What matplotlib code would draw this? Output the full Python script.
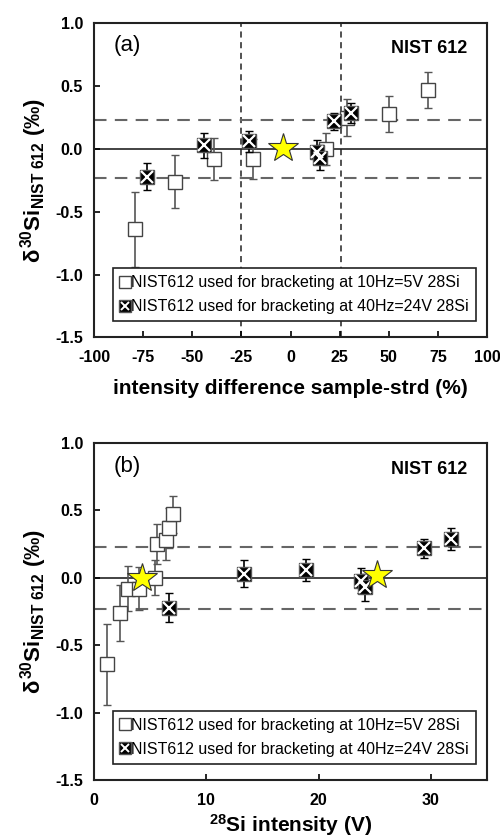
#!/usr/bin/env python3
import matplotlib
matplotlib.use('Agg')
import matplotlib.pyplot as plt
import numpy as np

plt.rcParams['font.family'] = ['Liberation Sans', 'DejaVu Sans']
plt.rcParams['mathtext.fontset'] = 'custom'
plt.rcParams['mathtext.rm'] = 'Liberation Sans:bold'
plt.rcParams['mathtext.bf'] = 'Liberation Sans:bold'
plt.rcParams['mathtext.it'] = 'Liberation Sans:bold'
plt.rcParams['axes.unicode_minus'] = False

# panel (a): intensity difference sample-strd (%)
a_sq_x = [-79, -59, -39, -19, 18, 29, 50, 70]
a_sq_y = [-0.64, -0.26, -0.08, -0.08, 0.00, 0.25, 0.28, 0.47]
a_sq_err = [0.30, 0.21, 0.165, 0.16, 0.13, 0.15, 0.145, 0.14]

a_cx_x = [-73, -44, -21, 13.5, 14.8, 22, 31]
a_cx_y = [-0.22, 0.03, 0.06, -0.02, -0.07, 0.22, 0.29]
a_cx_err = [0.11, 0.10, 0.08, 0.09, 0.10, 0.07, 0.08]

a_star_x = [-4]
a_star_y = [0.01]

# panel (b): 28Si intensity (V)
b_sq_x = [1.2, 2.3, 3.0, 4.0, 5.4, 5.6, 6.4, 6.7, 7.0]
b_sq_y = [-0.64, -0.26, -0.08, -0.08, 0.00, 0.25, 0.28, 0.37, 0.47]
b_sq_err = [0.30, 0.21, 0.165, 0.16, 0.13, 0.15, 0.145, 0.15, 0.14]

b_cx_x = [6.7, 13.4, 18.9, 23.8, 24.1, 29.4, 31.8]
b_cx_y = [-0.22, 0.03, 0.06, -0.02, -0.07, 0.22, 0.29]
b_cx_err = [0.11, 0.10, 0.08, 0.09, 0.10, 0.07, 0.08]

b_star_x = [4.3, 25.2]
b_star_y = [0.0, 0.02]

repro = 0.23
leg_sq = 'NIST612 used for bracketing at 10Hz=5V 28Si'
leg_cx = 'NIST612 used for bracketing at 40Hz=24V 28Si'

fig = plt.figure(figsize=(5, 8.39), dpi=100)
ax_a = fig.add_axes([0.188, 0.598, 0.786, 0.374])
ax_b = fig.add_axes([0.188, 0.070, 0.786, 0.402])

ylab = r'$\delta^{30}$Si$_{\mathrm{NIST\ 612}}$ (‰)'


def draw_panel(ax, sq_x, sq_y, sq_err, cx_x, cx_y, cx_err, st_x, st_y, tag):
    ax.axhline(0, color='#222222', lw=1.2, zorder=1)
    ax.axhline(repro, color='#666666', lw=1.5, ls=(0, (6, 4)), zorder=1)
    ax.axhline(-repro, color='#666666', lw=1.5, ls=(0, (6, 4)), zorder=1)
    ax.errorbar(sq_x, sq_y, yerr=sq_err, fmt='s', ms=10, mfc='white',
                mec='#444444', mew=1.0, ecolor='#555555', elinewidth=1.2,
                capsize=3, capthick=1.2, zorder=3)
    ax.errorbar(cx_x, cx_y, yerr=cx_err, fmt='s', ms=10, mfc='black',
                mec='#555555', mew=1.0, ecolor='black', elinewidth=1.2,
                capsize=3, capthick=1.2, zorder=4)
    ax.plot(cx_x, cx_y, 'x', ms=8, mew=1.6, color='white', zorder=5)
    ax.plot(st_x, st_y, '*', ms=22, mfc='#ffff00', mec='#333333', mew=0.8,
            zorder=6, ls='none')
    # legend handles
    h_sq, = ax.plot([], [], 's', ms=8, mfc='white', mec='#444444')
    h_cx1, = ax.plot([], [], 's', ms=8, mfc='black', mec='#555555')
    h_cx2, = ax.plot([], [], 'x', ms=6, mew=1.4, color='white')
    leg = ax.legend([h_sq, (h_cx1, h_cx2)], [leg_sq, leg_cx],
                    loc='lower center', bbox_to_anchor=(0.51, 0.025),
                    fontsize=11.5, handlelength=0.6, handletextpad=0.1,
                    borderpad=0.45, labelspacing=0.55, fancybox=False,
                    edgecolor='#222222', framealpha=1)
    leg.get_frame().set_linewidth(1.2)
    ax.text(0.05, 0.93, tag, transform=ax.transAxes, fontsize=16,
            va='center', ha='left')
    ax.text(0.95, 0.92, 'NIST 612', transform=ax.transAxes, fontsize=13,
            fontweight='bold', va='center', ha='right')
    ax.set_ylim(-1.5, 1.0)
    ax.set_yticks(np.arange(-1.5, 1.01, 0.5))
    ax.set_yticklabels([f'{v:.1f}' for v in np.arange(-1.5, 1.01, 0.5)])
    ax.tick_params(direction='in', length=4, width=1.2, labelsize=11.5)
    ax.tick_params(axis='x', pad=9)
    ax.tick_params(axis='y', pad=8)
    for lab in ax.get_xticklabels() + ax.get_yticklabels():
        lab.set_fontweight('bold')
    for s in ax.spines.values():
        s.set_linewidth(1.5)
        s.set_color('#222222')
    ax.set_ylabel(ylab, fontsize=16, fontweight='bold', labelpad=4)


# panel (a)
ax_a.set_xlim(-100, 100)
ax_a.set_xticks(np.arange(-100, 101, 25))
ax_a.axvline(-25, color='#222222', lw=1.1, ls=(0, (4, 3)), zorder=1)
ax_a.axvline(25.5, color='#222222', lw=1.1, ls=(0, (4, 3)), zorder=1)
draw_panel(ax_a, a_sq_x, a_sq_y, a_sq_err, a_cx_x, a_cx_y, a_cx_err,
           a_star_x, a_star_y, '(a)')
ax_a.set_xlabel('intensity difference sample-strd (%)', fontsize=15,
                fontweight='bold', labelpad=10)

# panel (b)
ax_b.set_xlim(0, 35)
ax_b.set_xticks([0, 10, 20, 30])
draw_panel(ax_b, b_sq_x, b_sq_y, b_sq_err, b_cx_x, b_cx_y, b_cx_err,
           b_star_x, b_star_y, '(b)')
ax_b.set_xlabel(r'$^{28}$Si intensity (V)', fontsize=15,
                fontweight='bold', labelpad=3)

fig.savefig('out.png', dpi=100)
